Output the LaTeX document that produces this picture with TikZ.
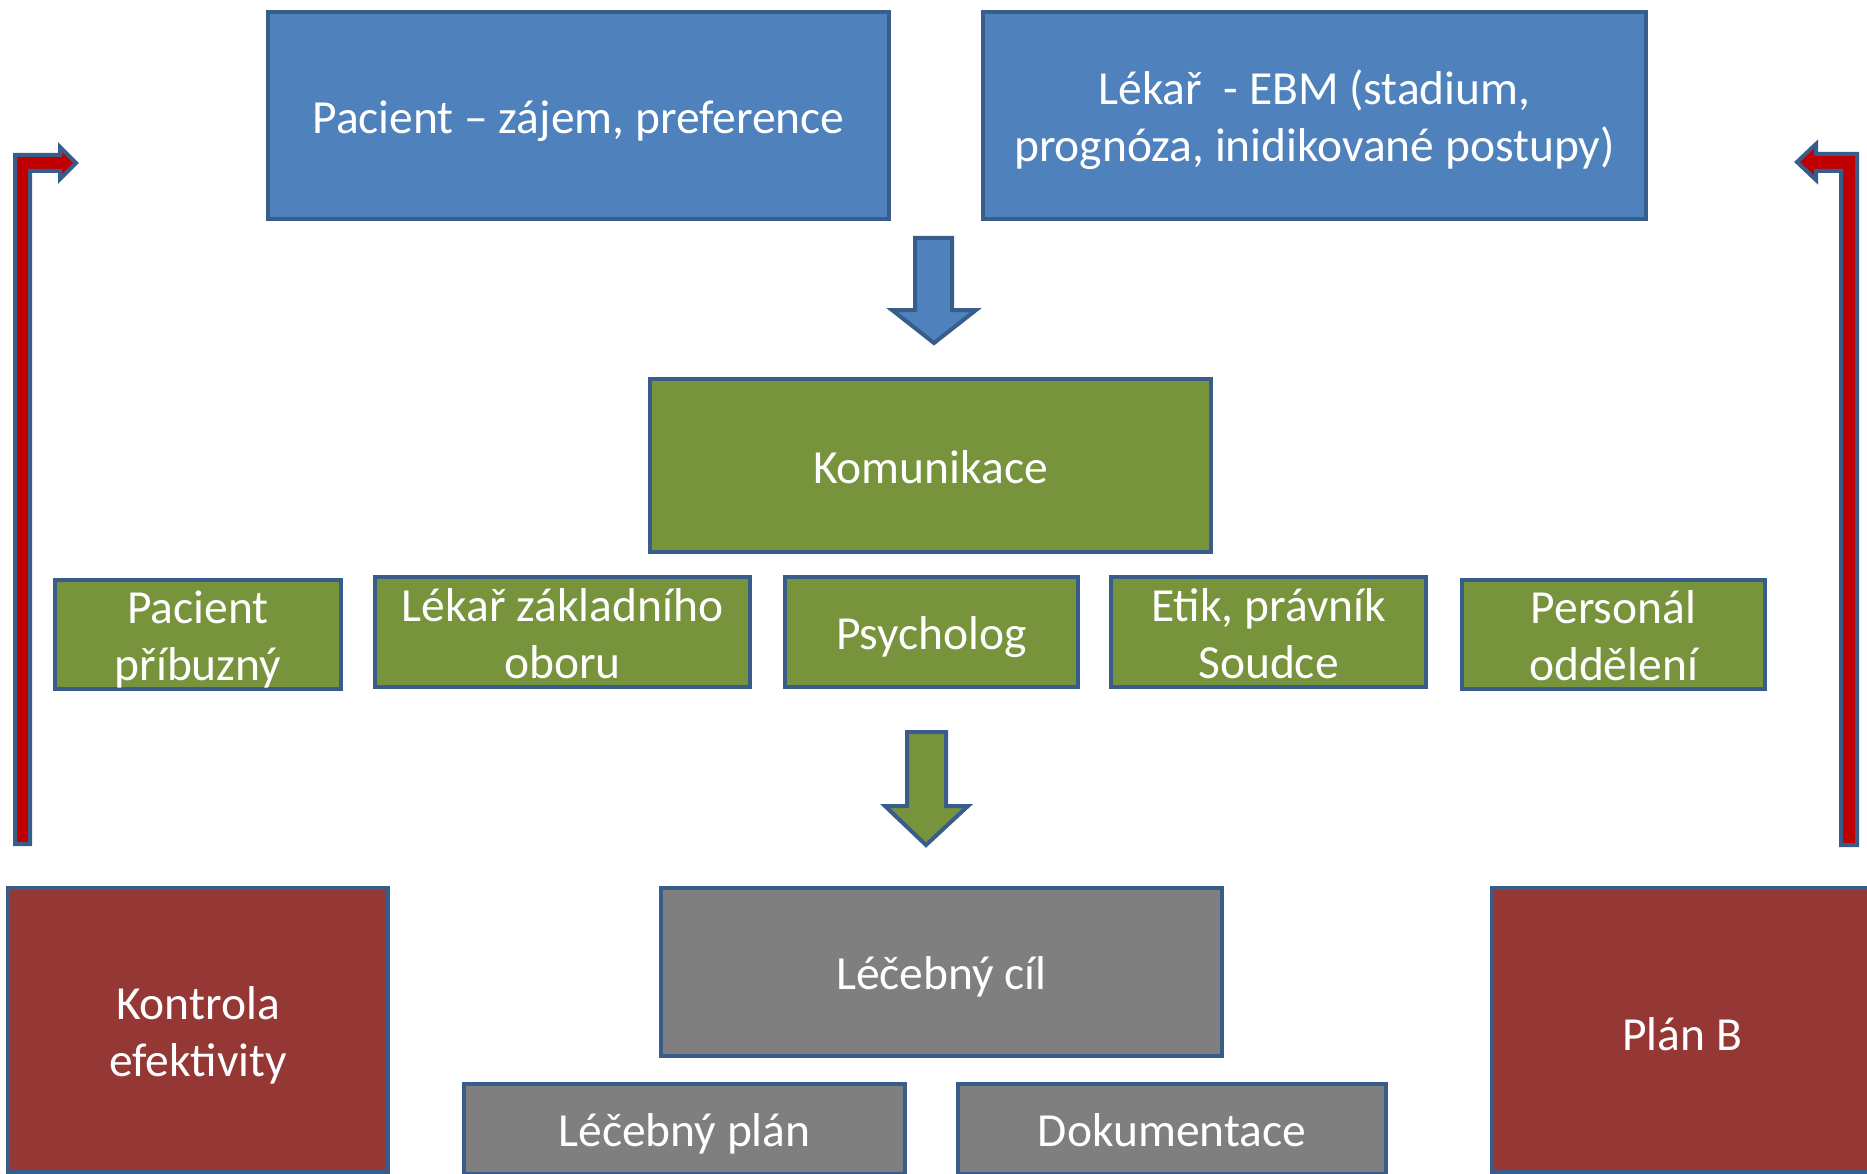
\documentclass[tikz,border=0pt]{standalone}
\usepackage{fontspec}
\setmainfont{Carlito}
\definecolor{bfill}{HTML}{4F81BD}
\definecolor{bline}{HTML}{385D8A}
\definecolor{gfill}{HTML}{77933C}
\definecolor{grfill}{HTML}{7F7F7F}
\definecolor{rfill}{HTML}{953735}
\definecolor{arrred}{HTML}{C00000}
\newcommand{\topstrutx}{\rule{0pt}{48pt}}
\newcommand{\botstrutx}{\rule[-12.5pt]{0pt}{12.5pt}}
\tikzset{
  box/.style={draw=bline, line width=3.5pt, text=white, align=center, inner xsep=0pt, inner ysep=-12pt,
    font=\fontsize{47.5}{57}\selectfont},
  bluebox/.style={box, fill=bfill},
  greenbox/.style={box, fill=gfill},
  graybox/.style={box, fill=grfill},
  redbox/.style={box, fill=rfill},
  blockarrow/.style={draw=bline, line width=4pt, line join=miter},
  bentarrow/.style={draw=bline, fill=arrred, line width=4pt, line join=miter},
}
\begin{document}
\begin{tikzpicture}[x=1pt,y=-1pt]
\useasboundingbox (0,0) rectangle (1867,1174);
\clip (0,0) rectangle (1867,1174);
% top
\node[bluebox, minimum width=621, minimum height=207] (pac) at (578.5,115.5) {\topstrutx Pacient – zájem, preference\botstrutx};
\node[bluebox, minimum width=663, minimum height=207] (lek) at (1314.5,115.5) {\topstrutx Lékař \ - EBM (stadium,\\prognóza, inidikované postupy)\botstrutx};
% communication
\node[greenbox, minimum width=561, minimum height=173] (kom) at (930.5,465.5) {\topstrutx Komunikace\botstrutx};
\node[greenbox, minimum width=286, minimum height=109] (pp) at (198,634.5) {\topstrutx Pacient\\příbuzný\botstrutx};
\node[greenbox, minimum width=375, minimum height=110] (lzo) at (562.5,632) {\topstrutx Lékař základního\\oboru\botstrutx};
\node[greenbox, minimum width=293, minimum height=110] (psy) at (931.5,632) {\topstrutx Psycholog\botstrutx};
\node[greenbox, minimum width=315, minimum height=110] (eti) at (1268.5,632) {\topstrutx Etik, právník\\Soudce\botstrutx};
\node[greenbox, minimum width=303, minimum height=109] (per) at (1613.5,634.5) {\topstrutx Personál\\oddělení\botstrutx};
% goal
\node[graybox, minimum width=561, minimum height=168] (cil) at (941.5,972) {\topstrutx Léčebný cíl\botstrutx};
\node[graybox, minimum width=441, minimum height=90] (plan) at (684.5,1129) {\topstrutx Léčebný plán\botstrutx};
\node[graybox, minimum width=428, minimum height=90] (dok) at (1172,1129) {\topstrutx Dokumentace\botstrutx};
\node[redbox, minimum width=380, minimum height=284] (kon) at (198,1030) {\topstrutx Kontrola\\efektivity\botstrutx};
\node[redbox, minimum width=400, minimum height=284] (planb) at (1692,1030) {};
\node[text=white, font=\fontsize{47.5}{57}\selectfont] (planbt) at (1682,1034) {Plán B};
% block arrows
\draw[blockarrow, fill=bfill] (915,238) -- (952,238) -- (952,310) -- (976,310) -- (934,343) -- (892,310) -- (915,310) -- cycle;
\draw[blockarrow, fill=gfill] (907,732) -- (946,732) -- (946,806) -- (968,806) -- (926,845) -- (885,806) -- (907,806) -- cycle;
% bent arrows
\draw[bentarrow] (15,844) -- (15,155) -- (60,155) -- (60,147) -- (76,163) -- (60,179) -- (60,171) -- (30,171) -- (30,844) -- cycle;
\draw[bentarrow] (1857,845) -- (1857,154) -- (1816,154) -- (1816,144) -- (1797,162) -- (1816,180) -- (1816,171) -- (1841,171) -- (1841,845) -- cycle;
\end{tikzpicture}
\end{document}
